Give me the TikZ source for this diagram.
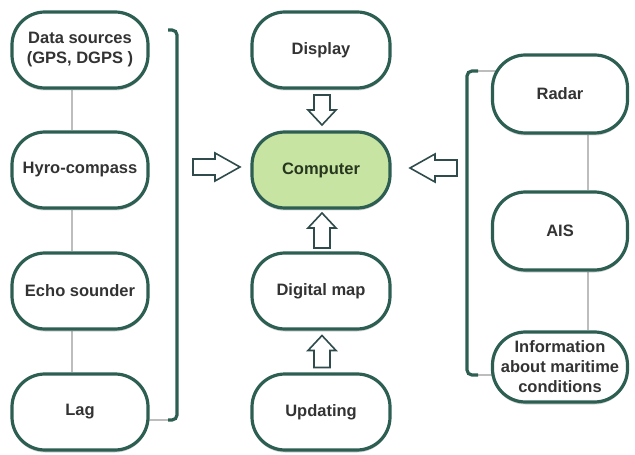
\documentclass[tikz,border=0pt]{standalone}
\usepackage{fontspec}
\setmainfont{Liberation Sans}
\usetikzlibrary{shadows,calc,backgrounds}
\definecolor{teal}{HTML}{2D5E52}
\definecolor{lgreen}{HTML}{C8E4A2}
\definecolor{txt}{HTML}{333333}
\definecolor{ctxt}{HTML}{27361E}
\definecolor{arr}{HTML}{2F4B4B}
\definecolor{gline}{HTML}{BDBDBD}
\tikzset{
  box/.style={draw=teal, line width=3.2bp, fill=white, rounded corners=33bp,
    minimum width=#1, minimum height=76bp, inner sep=2bp, align=center,
    text=txt, font=\fontsize{16.5bp}{20bp}\selectfont\bfseries,
    drop shadow={shadow xshift=0bp, shadow yshift=-2.5bp, opacity=0.3, fill=black!60}},
  box/.default=136bp,
  harr/.style={draw=arr, fill=white, line width=1.6bp, line join=miter},
  glink/.style={draw=gline, line width=1.4bp},
  brack/.style={draw=teal, line width=3.2bp, rounded corners=5bp}
}
% #1 centre, #2 rotation, #3 half length, #4 head length
\newcommand{\hollowarrow}[4]{%
  \draw[harr, shift={#1}, rotate=#2]
    (-#3,-8) -- ({#3-#4},-8) -- ({#3-#4},-14) -- (#3,0) -- ({#3-#4},14)
    -- ({#3-#4},8) -- (-#3,8) -- cycle;}
\begin{document}
\begin{tikzpicture}[x=1bp,y=-1bp]
\useasboundingbox (0,0) rectangle (635,455);
% left column
\node[box] (ds) at (80,50) {Data sources\\(GPS, DGPS )};
\node[box] (hc) at (80,170) {Hyro-compass};
\node[box] (es) at (80,291) {Echo sounder};
\node[box] (lag) at (80,412) {Lag};
% middle column
\node[box=138bp] (disp) at (321,50) {Display};
\node[box=138bp, fill=lgreen, text=ctxt] (comp) at (321,170) {Computer};
\node[box=138bp] (dmap) at (321,291) {Digital map};
\node[box=138bp] (upd) at (321,412) {Updating};
% right column
\node[box=135bp, minimum height=78bp] (radar) at (560,94) {Radar};
\node[box=135bp, minimum height=78bp] (ais) at (560,231) {AIS};
\node[box=135bp, minimum height=70bp] (info) at (560,367) {Information\\about maritime\\conditions};
% bracket coordinates
\coordinate (lbt) at (168,30);
\coordinate (lbb) at (168,420);
\coordinate (rbt) at (478,71);
\coordinate (rbb) at (478,375);
\begin{pgfonlayer}{background}
\draw[glink] ([xshift=-8bp]ds.south) -- ([xshift=-8bp]hc.north);
\draw[glink] ([xshift=-8bp]hc.south) -- ([xshift=-8bp]es.north);
\draw[glink] ([xshift=-8bp]es.south) -- ([xshift=-8bp]lag.north);
\draw[glink] ([xshift=28bp]radar.south) -- ([xshift=28bp]ais.north);
\draw[glink] ([xshift=28bp]ais.south) -- ([xshift=28bp]info.north);
\draw[glink] (lag.center |- lbb) -- (lbb);
\draw[glink] (rbt) -- (radar.center |- rbt);
\draw[glink] (rbb) -- (info.center |- rbb);
\end{pgfonlayer}
\draw[brack] (lbt) -- (177,30) -- (177,420) -- (lbb);
\draw[brack] (rbt) -- (467,71) -- (467,375) -- (rbb);
% hollow arrows
\hollowarrow{(216.5,167)}{0}{23.5}{25}
\hollowarrow{(433.5,168)}{180}{23.5}{25}
\hollowarrow{($(disp.south)!0.5!(comp.north)+(1,0)$)}{-90}{15}{15}
\hollowarrow{($(dmap.north)!0.5!(comp.south)+(1,0)$)}{90}{17.5}{15}
\hollowarrow{($(upd.north)!0.5!(dmap.south)+(1,0)$)}{90}{16}{15}
\end{tikzpicture}
\end{document}
